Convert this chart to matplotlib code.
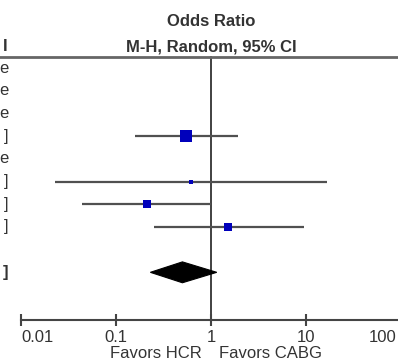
import matplotlib
matplotlib.use("Agg")
import matplotlib.pyplot as plt
from matplotlib.patches import Polygon
from matplotlib.transforms import blended_transform_factory, ScaledTranslation

#-------data-------
# row index of each study in the table, only those with an estimate get a marker
est_rows = [3, 5, 6, 7]
odds_ratio = [0.55, 0.62, 0.21, 1.50]
ci_low = [0.16, 0.023, 0.044, 0.25]
ci_high = [1.92, 16.7, 1.00, 9.5]
weights = [50.9, 5.6, 22.8, 20.7]
not_estimable_rows = [0, 1, 2, 4]

total_row = 9
total_or = 0.50
total_low = 0.23
total_high = 1.15

tick_vals = [0.01, 0.1, 1, 10, 100]
tick_labels = ["0.01", "0.1", "1", "10", "100"]

# the table to the left is cropped off in the picture: only the last
# character of each cell is still visible
left_header = "I"
left_not_est = "e"
left_value = "]"

plt.rcParams["font.family"] = ["Liberation Sans", "DejaVu Sans"]
W, H = 398, 363
fig = plt.figure(figsize=(W / 100, H / 100), dpi=100)

# axes spans 0.01 (x=21px) .. 100 (x=401px), top rule (57px) .. axis (320px)
ax = fig.add_axes([21 / W, (H - 320) / H, 380 / W, (320 - 57) / H])
ax.set_xscale("log")
ax.set_xlim(0.01, 100)
ax.set_ylim(11.1, -0.485)

#-------study rows-------
for r, o, lo, hi, w in zip(est_rows, odds_ratio, ci_low, ci_high, weights):
    ax.plot([lo, hi], [r, r], color="#505050", lw=1.6, solid_capstyle="butt", zorder=2)
    side = 1.68 * w ** 0.5  # pixels
    ax.plot(o, r, marker="s", markersize=side * 0.72, color="#0000bb",
            markeredgewidth=0, zorder=3)

# pooled diamond
h = 0.46
ax.add_patch(Polygon([[total_low, total_row], [total_or, total_row - h],
                      [total_high, total_row], [total_or, total_row + h]],
                     closed=True, facecolor="black", edgecolor="black", lw=0.8, zorder=3))

# line of no effect
ax.plot([1, 1], [-0.485, 11.1], color="#333333", lw=1.3, zorder=1, clip_on=False)

# header rule across whole figure
fig.add_artist(plt.Line2D([0, 1], [(H - 56.5) / H] * 2, transform=fig.transFigure,
                          color="#666666", lw=2))

#-------axis-------
for s in ["top", "left", "right"]:
    ax.spines[s].set_visible(False)
ax.spines["bottom"].set_color("#444444")
ax.spines["bottom"].set_linewidth(1.5)
ax.set_yticks([])
ax.set_xticks(tick_vals)
ax.set_xticklabels(tick_labels, fontsize=12, color="#333333")
ax.minorticks_off()
ax.tick_params(axis="x", direction="inout", length=9, width=1.5, color="#444444", pad=3)
lbls = ax.get_xticklabels()
lbls[0].set_ha("left")
lbls[-1].set_ha("right")
# keep "100" inside the picture
lbls[-1].set_transform(lbls[-1].get_transform() +
                       ScaledTranslation(-5 / 100, 0, fig.dpi_scale_trans))

#-------text-------
cx = 211 / W
fig.text(cx, (H - 22) / H, "Odds Ratio", ha="center", va="center",
         fontsize=12, fontweight="bold", color="#333333")
fig.text(cx, (H - 46.5) / H, "M-H, Random, 95% CI", ha="center", va="center",
         fontsize=12, fontweight="bold", color="#333333")
fig.text(7.5 / W, (H - 46.5) / H, left_header, ha="right", va="center",
         fontsize=12, fontweight="bold", color="#333333")

fig.text(202 / W, (H - 354) / H, "Favors HCR", ha="right", va="center",
         fontsize=12, color="#333333")
fig.text(219 / W, (H - 354) / H, "Favors CABG", ha="left", va="center",
         fontsize=12, color="#333333")

# left table column
tr = blended_transform_factory(fig.transFigure, ax.transData)
for r in not_estimable_rows:
    ax.text(8 / W, r, left_not_est, transform=tr, ha="right", va="center",
            fontsize=12, color="#333333", clip_on=False)
for r in est_rows:
    ax.text(8 / W, r, left_value, transform=tr, ha="right",
            va="center", fontsize=12, color="#333333", clip_on=False)
ax.text(8 / W, total_row, left_value, transform=tr, ha="right", va="center",
        fontsize=12, fontweight="bold", color="#333333", clip_on=False)

fig.savefig("out.png", dpi=100)
